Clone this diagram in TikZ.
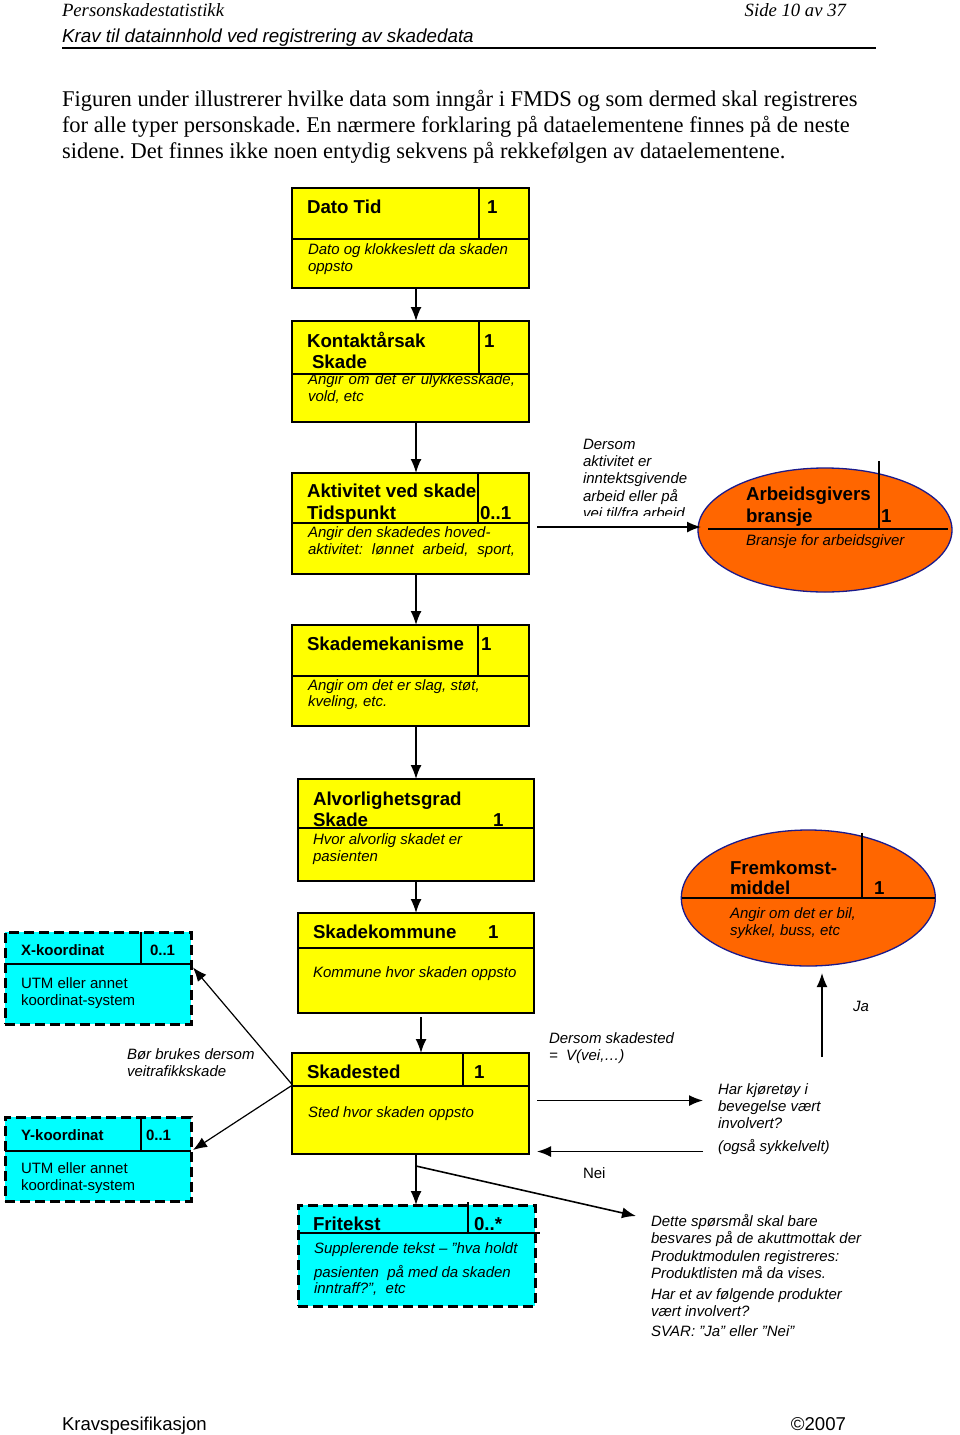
\documentclass[tikz,border=0pt]{standalone}
\usepackage{fontspec}
\setmainfont{Liberation Sans}
\newfontfamily\serifrm{Liberation Serif}
\usetikzlibrary{shapes.geometric,arrows.meta}
\definecolor{ylw}{HTML}{FFFF00}
\definecolor{cyn}{HTML}{00FFFF}
\definecolor{orng}{HTML}{FF6600}
\definecolor{nvy}{HTML}{1A1A8C}
\newcommand\myfs[2]{\fontsize{#1}{#2}\selectfont}
\frenchspacing
\begin{document}
\begin{tikzpicture}[x=1pt,y=-1pt,
  ybox/.style={draw=black, line width=2pt, fill=ylw, rectangle, inner sep=0, outer sep=0},
  cbox/.style={draw=black, line width=3pt, dash pattern=on 10pt off 5pt, fill=cyn, rectangle, inner sep=0, outer sep=0},
  ell/.style={draw=nvy, line width=1.3pt, fill=orng, ellipse, inner sep=0, outer sep=0},
  dv/.style={line width=2pt},
  lb/.style={anchor=base west, inner sep=0, outer sep=0},
  ttl/.style={lb, font=\myfs{18.7}{22}\bfseries},
  dsc/.style={lb, font=\myfs{15}{18}\itshape},
  rg/.style={lb, font=\myfs{15}{18}},
  cttl/.style={lb, font=\myfs{15}{18}\bfseries},
  arr/.style={line width=1.6pt, -{Latex[length=14pt,width=11pt]}},
  tarr/.style={line width=1.2pt, -{Latex[length=14pt,width=11pt]}},
]
\fill[white] (0,0) rectangle (960,1435);
\useasboundingbox (0,0) rectangle (960,1435);

% ---------- header ----------
\node[lb, font=\serifrm\itshape\myfs{18.7}{22}] (h1) at (62,16) {Personskadestatistikk};
\node[lb, anchor=base east, font=\serifrm\itshape\myfs{18.7}{22}] (h2) at (846,16) {Side 10 av 37};
\node[lb, font=\itshape\myfs{18.8}{22}] (h3) at (62,42) {Krav til datainnhold ved registrering av skadedata};
\draw[line width=1.5pt] (62,48) -- (876,48);

\node[lb, font=\serifrm\myfs{22.5}{26}] (p1) at (62,106) {Figuren under illustrerer hvilke data som inngår i FMDS og som dermed skal registreres};
\node[lb, font=\serifrm\myfs{22.5}{26}] (p2) at (62,132) {for alle typer personskade. En nærmere forklaring på dataelementene finnes på de neste};
\node[lb, font=\serifrm\myfs{22.5}{26}] (p3) at (62,158) {sidene. Det finnes ikke noen entydig sekvens på rekkefølgen av dataelementene.};

% ---------- boxes ----------
\node[ybox, minimum width=237pt, minimum height=100pt] (b1) at (410.5,238) {};
\node[ybox, minimum width=237pt, minimum height=101pt] (b2) at (410.5,371.5) {};
\node[ybox, minimum width=237pt, minimum height=101pt] (b3) at (410.5,523.5) {};
\node[ybox, minimum width=237pt, minimum height=101pt] (b4) at (410.5,675.5) {};
\node[ybox, minimum width=236pt, minimum height=102pt] (b5) at (416,830) {};
\node[ybox, minimum width=236pt, minimum height=100pt] (b6) at (416,963) {};
\node[ybox, minimum width=237pt, minimum height=101pt] (b7) at (410.5,1103.5) {};
\node[cbox, minimum width=186pt, minimum height=92pt] (bx) at (98,978) {};
\node[cbox, minimum width=186pt, minimum height=84pt] (by) at (98,1159) {};
\node[cbox, minimum width=237pt, minimum height=101pt] (bf) at (416.5,1255.5) {};
\node[ell, minimum width=254pt, minimum height=124pt] (e1) at (825,530) {};
\node[ell, minimum width=254pt, minimum height=136pt] (e2) at (808.3,898) {};

% dividers
\draw[dv] (292,239) -- (529,239) (479,188) -- (479,239);
\draw[dv] (292,374) -- (529,374) (479,321) -- (479,374);
\draw[dv] (292,523) -- (529,523) (478,473) -- (478,523);
\draw[dv] (292,676) -- (529,676) (478,625) -- (478,676);
\draw[dv] (298,828) -- (534,828);
\draw[dv] (298,948) -- (534,948);
\draw[dv] (292,1086) -- (529,1086) (463,1053) -- (463,1086);
\draw[dv] (5,964) -- (191,964) (141,932) -- (141,964);
\draw[dv] (5,1151) -- (191,1151) (141,1117) -- (141,1151);
\draw[dv] (298,1233) -- (540,1233) (468,1202) -- (468,1233);
\draw[line width=1.5pt] (708,529) -- (948,529) (879,461) -- (879,529);
\draw[line width=1.5pt] (681.7,898) -- (935,898) (862,832.5) -- (862,898);

% ---------- box texts ----------
\node[ttl] (t1a) at (307,213) {Dato Tid};
\node[ttl] (t1b) at (487,213) {1};
\node[dsc] (t1c) at (308,254) {Dato og klokkeslett da skaden};
\node[dsc] (t1d) at (308,271.5) {oppsto};

\node[ttl] (t2a) at (307,347) {Kontaktårsak};
\node[ttl] (t2b) at (312,368) {Skade};
\node[ttl] (t2c) at (484,347) {1};
\node[dsc] (t2d) at (308,384) {\makebox[207pt][s]{Angir om det er ulykkesskade,}};
\node[dsc] (t2e) at (308,401.5) {vold, etc};

\node[ttl] (t3a) at (307,497) {Aktivitet ved skade};
\node[ttl] (t3b) at (307,519) {Tidspunkt};
\node[ttl] (t3c) at (480,519) {0..1};
\node[dsc] (t3d) at (308,537) {Angir den skadedes hoved-};
\node[dsc] (t3e) at (308,554) {\makebox[207pt][s]{aktivitet: lønnet arbeid, sport,}};

\node[ttl] (t4a) at (307,650) {Skademekanisme};
\node[ttl] (t4b) at (481,650) {1};
\node[dsc] (t4c) at (308,690) {Angir om det er slag, støt,};
\node[dsc] (t4d) at (308,706.5) {kveling, etc.};

\node[ttl] (t5a) at (313,805) {Alvorlighetsgrad};
\node[ttl] (t5b) at (313,826.5) {Skade};
\node[ttl] (t5c) at (493,826.5) {1};
\node[dsc] (t5d) at (313,844) {Hvor alvorlig skadet er};
\node[dsc] (t5e) at (313,861) {pasienten};

\node[ttl] (t6a) at (313,938) {Skadekommune};
\node[ttl] (t6b) at (488,938) {1};
\node[dsc] (t6c) at (313,977) {Kommune hvor skaden oppsto};

\node[ttl] (t7a) at (307,1078) {Skadested};
\node[ttl] (t7b) at (474,1078) {1};
\node[dsc] (t7c) at (308,1117) {Sted hvor skaden oppsto};

\node[ttl] (tfa) at (313,1230) {Fritekst};
\node[ttl] (tfb) at (474,1230) {0..*};
\node[dsc] (tfc) at (314,1253.5) {Supplerende tekst – ”hva holdt};
\node[dsc] (tfd) at (314,1277) {pasienten\ \ på med da skaden};
\node[dsc] (tfe) at (314,1293.5) {inntraff?”,\ \ etc};

\node[cttl] (txa) at (21,955) {X-koordinat};
\node[cttl] (txb) at (150,955) {0..1};
\node[rg] (txc) at (21,988.5) {UTM eller annet};
\node[rg] (txd) at (21,1005) {koordinat-system};

\node[cttl] (tya) at (21,1140) {Y-koordinat};
\node[cttl] (tyb) at (146,1140) {0..1};
\node[rg] (tyc) at (21,1173.5) {UTM eller annet};
\node[rg] (tyd) at (21,1190) {koordinat-system};

\node[ttl] (tea) at (746,500) {Arbeidsgivers};
\node[ttl] (teb) at (746,522) {bransje};
\node[ttl] (tec) at (881,522) {1};
\node[dsc] (ted) at (746,545) {Bransje for arbeidsgiver};

\node[ttl] (tga) at (730,874) {Fremkomst-};
\node[ttl] (tgb) at (730,894.5) {middel};
\node[ttl] (tgc) at (874,894.5) {1};
\node[dsc] (tgd) at (730,918.5) {Angir om det er bil,};
\node[dsc] (tge) at (730,935.5) {sykkel, buss, etc};

% ---------- free labels ----------
\begin{scope}
\clip (560,430) rectangle (700,515);
\node[dsc] (l1) at (583,449) {Dersom};
\node[dsc] (l2) at (583,466) {aktivitet er};
\node[dsc] (l3) at (583,483.5) {inntektsgivende};
\node[dsc] (l4) at (583,501) {arbeid eller på};
\node[dsc] (l5) at (583,518.5) {vei til/fra arbeid};
\end{scope}

\node[dsc] (m1) at (127,1059.5) {Bør brukes dersom};
\node[dsc] (m2) at (127,1076) {veitrafikkskade};

\node[dsc] (n1) at (549,1043) {Dersom skadested};
\node[dsc] (n2) at (549,1060) {=\ \ V(vei,…)};

\node[dsc] (q1) at (718,1094) {Har kjøretøy i};
\node[dsc] (q2) at (718,1111.5) {bevegelse vært};
\node[dsc] (q3) at (718,1128.5) {involvert?};
\node[dsc] (q4) at (718,1151) {(også sykkelvelt)};

\node[rg] (nei) at (583,1178) {Nei};
\node[dsc] (ja) at (853,1011.5) {Ja};

\node[dsc] (d1) at (651,1226.5) {Dette spørsmål skal bare};
\node[dsc] (d2) at (651,1243.5) {besvares på de akuttmottak der};
\node[dsc] (d3) at (651,1261) {Produktmodulen registreres:};
\node[dsc] (d4) at (651,1278) {Produktlisten må da vises.};
\node[dsc] (d5) at (651,1299) {Har et av følgende produkter};
\node[dsc] (d6) at (651,1316) {vært involvert?};
\node[dsc] (d7) at (651,1336) {SVAR: ”Ja” eller ”Nei”};

\node[lb, font=\myfs{18.6}{22}] (f1) at (62,1430) {Kravspesifikasjon};
\node[lb, anchor=base east, font=\myfs{18.6}{22}] (f2) at (846,1430) {©2007};

% ---------- connectors ----------
\coordinate (c416) at (416,0);
\coordinate (c421) at (421,0);
\draw[arr] (b1.south -| c416) -- (b2.north -| c416);
\draw[arr] (b2.south -| c416) -- (b3.north -| c416);
\draw[arr] (b3.south -| c416) -- (b4.north -| c416);
\draw[arr] (b4.south -| c416) -- (b5.north -| c416);
\draw[arr] (b5.south -| c416) -- (b6.north -| c416);
\draw[arr, shorten <=4pt] (b6.south -| c421) -- (b7.north -| c421);
\draw[arr] (b7.south -| c416) -- (bf.north -| c416);

\coordinate (a3s) at (537,527);
\coordinate (a3e) at (701,527);
\draw[arr] (a3s) -- (a3e);

\coordinate (sk) at (292.5,1085);
\coordinate (xt) at (193,967.5);
\coordinate (yt) at (193,1150);
\draw[tarr] (sk) -- (xt);
\draw[tarr] (sk) -- (yt);

\coordinate (r1s) at (537,1100.5);
\coordinate (r1e) at (703,1100.5);
\draw[arr] (r1s) -- (r1e);
\coordinate (r2s) at (703,1151.5);
\coordinate (r2e) at (537,1151.5);
\draw[arr] (r2s) -- (r2e);

\coordinate (us) at (822,1057);
\coordinate (ue) at (822,973);
\draw[arr] (us) -- (ue);

\coordinate (ds) at (416,1166);
\coordinate (de) at (636,1216);
\draw[arr] (ds) -- (de);
\end{tikzpicture}
\end{document}
